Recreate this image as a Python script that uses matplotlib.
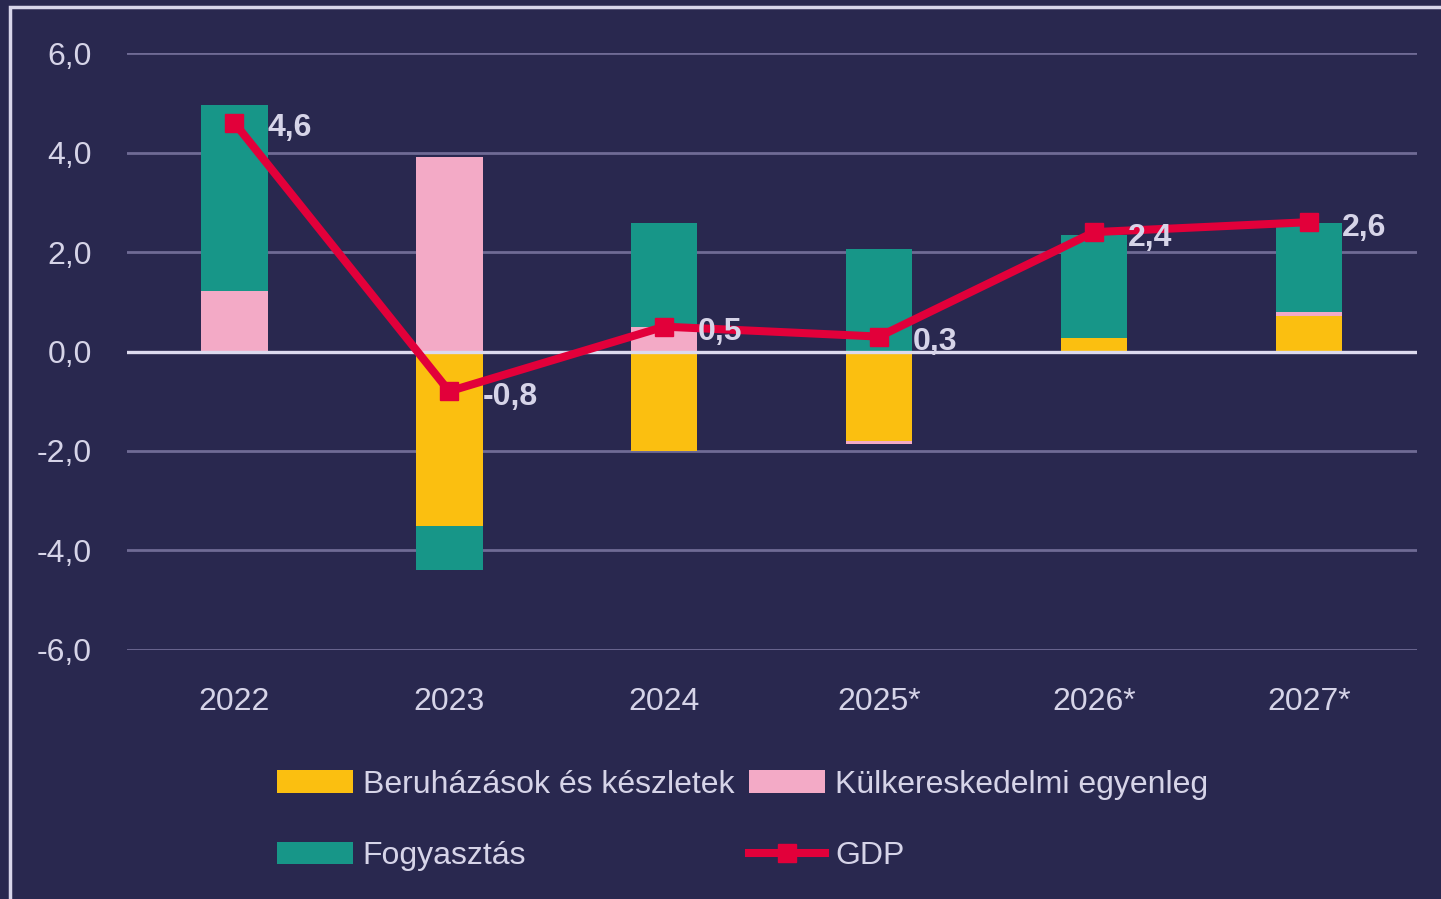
import numpy as np
import matplotlib
matplotlib.use("Agg")
import matplotlib.pyplot as plt
from matplotlib.patches import Rectangle

years = ["2022", "2023", "2024", "2025*", "2026*", "2027*"]
beruhazas = [0.0, -3.51, -2.0, -1.80, 0.27, 0.71]
kulker = [1.22, 3.92, 0.50, -0.05, 0.0, 0.08]
fogyasztas = [3.74, -0.89, 2.09, 2.07, 2.08, 1.79]
gdp = [4.6, -0.8, 0.5, 0.3, 2.4, 2.6]
gdp_labels = ["4,6", "-0,8", "0,5", "0,3", "2,4", "2,6"]
yticks = [-6, -4, -2, 0, 2, 4, 6]

bg = "#29284f"
c_yellow = "#fbbf10"
c_pink = "#f3aac6"
c_teal = "#179688"
c_red = "#e2003a"
c_text = "#d6d4e8"
c_grid = "#6f6b95"

plt.rcParams['font.family'] = ['Liberation Sans', 'DejaVu Sans']

fig = plt.figure(figsize=(14.41, 8.99), dpi=100, facecolor=bg)
ax = fig.add_axes([0.088, 0.277, 0.895, 0.664])
ax.set_facecolor(bg)

x = np.arange(len(years))
w = 0.31

# stack positives and negatives separately
pos_base = np.zeros(len(years))
neg_base = np.zeros(len(years))
handles = {}
for name, vals, col in [("Beruházások és készletek", beruhazas, c_yellow),
                        ("Külkereskedelmi egyenleg", kulker, c_pink),
                        ("Fogyasztás", fogyasztas, c_teal)]:
    vals = np.array(vals)
    base = np.where(vals >= 0, pos_base, neg_base)
    b = ax.bar(x, vals, w, bottom=base, color=col, zorder=3, label=name)
    handles[name] = b
    pos_base = pos_base + np.where(vals >= 0, vals, 0)
    neg_base = neg_base + np.where(vals < 0, vals, 0)

ln, = ax.plot(x, gdp, color=c_red, lw=5.8, marker='s', ms=13,
              zorder=5, label="GDP")
for xi, yi, t in zip(x, gdp, gdp_labels):
    ax.annotate(t, (xi, yi), xytext=(24, -4), textcoords='offset points',
                ha='left', va='center', fontsize=23, fontweight='bold',
                color=c_text, zorder=6)

ax.set_xlim(-0.5, len(years) - 0.5)
ax.set_ylim(-6, 6)
ax.set_yticks(yticks)
ax.set_yticklabels([f"{v:.1f}".replace(".", ",") for v in yticks])
ax.set_xticks(x)
ax.set_xticklabels(years)
ax.tick_params(length=0, labelsize=23, colors=c_text)
ax.tick_params(axis='y', pad=25)
ax.tick_params(axis='x', pad=27)
for s in ax.spines.values():
    s.set_visible(False)
for v in yticks:
    if v == 0:
        ax.axhline(v, color="#dcdaee", lw=2.4, zorder=4)
    else:
        ax.axhline(v, color=c_grid, lw=2, zorder=1)

order = ["Beruházások és készletek", "Fogyasztás", "Külkereskedelmi egyenleg"]
hs = [handles[n] for n in order] + [ln]
labs = order + ["GDP"]
leg = fig.legend(hs, labs, ncol=2, loc='upper left',
                 bbox_to_anchor=(0.172, 0.176), frameon=False,
                 prop={'size': 23},
                 labelcolor=c_text, handlelength=2.4, handleheight=0.7,
                 handletextpad=0.3, columnspacing=0.45, labelspacing=1.3)

fig.patches.append(Rectangle((10 / 1441, -0.1), 1.2, 1.1 - 7 / 899,
                             transform=fig.transFigure, fill=False,
                             edgecolor="#d8d6ea", lw=2.5))

fig.savefig("out.png", dpi=100, facecolor=bg)
